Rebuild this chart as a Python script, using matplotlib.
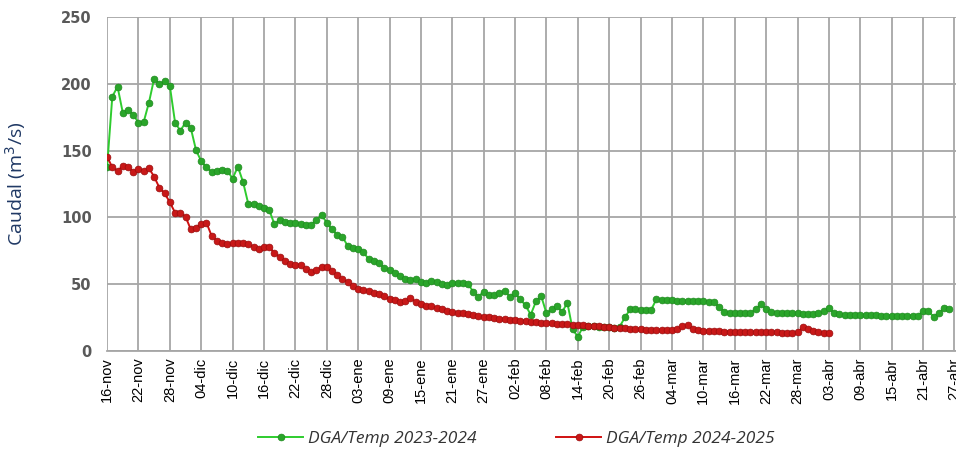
import matplotlib
matplotlib.use('Agg')
from matplotlib import pyplot as plt
import numpy as np

# etiquetas del eje x (cada 6 dias desde 16-nov)
tick_labels = ['16-nov', '22-nov', '28-nov', '04-dic', '10-dic', '16-dic', '22-dic',
               '28-dic', '03-ene', '09-ene', '15-ene', '21-ene', '27-ene', '02-feb',
               '08-feb', '14-feb', '20-feb', '26-feb', '04-mar', '10-mar', '16-mar',
               '22-mar', '28-mar', '03-abr', '09-abr', '15-abr', '21-abr', '27-abr']

# caudal diario DGA/Temp 2023-2024 (m3/s), desde 16-nov
q_2324 = [137.5, 190.5, 198, 178.5, 180.5, 177, 171, 171.5, 186, 204,
          200, 202, 198.5, 171, 165, 171, 167, 150.5, 142, 137.5,
          134, 135, 135.5, 135, 129, 138, 126.5, 110, 110, 108.5,
          106.8, 105.5, 94.8, 98, 96.8, 96, 96, 94.8, 94.3, 94.3,
          98, 101.8, 96, 91, 86.8, 85.5, 78.5, 76.8, 76.3, 74.2,
          68.5, 67.3, 66, 61.8, 60.5, 58.5, 56, 53.5, 53, 53.5,
          51.8, 50.5, 52.5, 51.8, 50, 49.3, 50.5, 51, 50.5, 50,
          44.3, 40.5, 44.3, 41.8, 41.8, 43, 45, 40.5, 43, 38.5,
          34, 27, 37, 41, 28, 31, 33.5, 29, 36, 16,
          10.5, 18, 18.5, 18.3, 18, 17.8, 17.5, 17.2, 18, 25,
          31, 31, 30.5, 30.5, 30.5, 38.5, 38, 38, 37.8, 37.5,
          37.5, 37.3, 37, 37, 37, 36.8, 36.5, 33, 29.3, 28.5,
          28.5, 28.5, 28.5, 28.5, 31, 35, 31, 29.3, 28.5, 28,
          28, 28, 28, 27.8, 27.8, 27.8, 28, 29.5, 31.8, 28.5,
          27.5, 27, 27, 26.8, 26.8, 26.5, 26.5, 26.5, 26.3, 26.3,
          26.2, 26, 26, 26, 26, 26, 29.8, 29.8, 25.5, 28,
          32, 31.5]

# caudal diario DGA/Temp 2024-2025 (m3/s), desde 16-nov
q_2425 = [145.5, 137.5, 134.8, 138.5, 137.5, 134.2, 136.3, 135, 136.8, 130.5,
          122.2, 118, 111.3, 103.5, 103.5, 100.5, 91, 92.2, 94.8, 96,
          86, 82.5, 80.5, 80, 80.5, 81, 80.5, 80, 77.5, 76,
          78, 78, 73, 70.5, 67.5, 65, 64.5, 64, 61.5, 59,
          60.5, 63, 62.5, 59.5, 56.5, 53.5, 51.3, 48.7, 46, 45.5,
          45, 43.4, 42.3, 40.7, 38.5, 38, 36.8, 37.3, 39.3, 36.8,
          35, 33.8, 33.5, 31.8, 31.3, 29.5, 28.8, 28.3, 28, 27.5,
          26.8, 26.3, 25.5, 25, 24.5, 24, 23.8, 23, 23, 22.5,
          22.3, 21.8, 21.5, 21, 20.8, 20.5, 20.3, 20, 19.8, 19.5,
          19.3, 19, 18.8, 18.5, 18.3, 18, 17.5, 17.3, 17, 16.8,
          16.5, 16.3, 16, 15.8, 15.6, 15.5, 15.5, 15.3, 15.5, 16.5,
          18.5, 19, 16.5, 15.5, 15, 14.8, 14.5, 14.5, 14.3, 14.3,
          14.2, 14, 14, 14, 13.8, 13.8, 13.8, 13.7, 13.7, 13.6,
          13.6, 13.5, 13.8, 17.5, 16.5, 15, 14, 13.5, 13.3]

fig = plt.figure(figsize=(9.56, 4.54), dpi=100)
ax = fig.add_axes([0.112, 0.2275, 0.888, 0.7345])

dias_a = np.arange(len(q_2324))
dias_b = np.arange(len(q_2425))

ax.plot(dias_a, q_2324, color='#2ecc2e', lw=1.4, marker='o', markersize=4.9,
        markerfacecolor='#2aa52a', markeredgecolor='#1e8a1e', markeredgewidth=0.5,
        label='DGA/Temp 2023-2024', zorder=3)
ax.plot(dias_b, q_2425, color='#d01010', lw=1.4, marker='o', markersize=4.9,
        markerfacecolor='#c81818', markeredgecolor='#9a0c0c', markeredgewidth=0.5,
        label='DGA/Temp 2024-2025', zorder=4)

ax.set_xlim(0, 162.3)
ax.set_ylim(0, 250)
ax.set_yticks([0, 50, 100, 150, 200, 250])
ax.set_xticks(np.arange(len(tick_labels)) * 6)
ax.set_xticklabels(tick_labels, rotation=90, fontsize=10.5, family='Liberation Sans')

for lab in ax.get_yticklabels():
    lab.set_fontweight('bold')
    lab.set_color('#595959')
    lab.set_fontsize(10.5)
    lab.set_family('DejaVu Sans')

ax.tick_params(axis='y', length=0, pad=11)
ax.tick_params(axis='x', length=0, pad=5)

ax.grid(True, color='#a6a6a6', lw=1.3)
ax.set_axisbelow(True)
for s in ['top', 'right', 'left']:
    ax.spines[s].set_visible(False)
ax.spines['bottom'].set_color('#a6a6a6')
ax.spines['bottom'].set_linewidth(1.3)

ax.set_ylabel('Caudal (m$^3$/s)', fontsize=14, color='#1f3864', family='Open Sans')
ax.yaxis.set_label_coords(-0.093, 0.5)

leg = fig.legend(loc='lower center', bbox_to_anchor=(0.54, -0.02), ncol=2, frameon=False,
                 prop={'style': 'italic', 'size': 12.5, 'family': 'Open Sans'},
                 columnspacing=4.6, handlelength=2.6, handletextpad=0.25)
for t in leg.get_texts():
    t.set_color('#333333')

fig.savefig('out.png', dpi=100)
